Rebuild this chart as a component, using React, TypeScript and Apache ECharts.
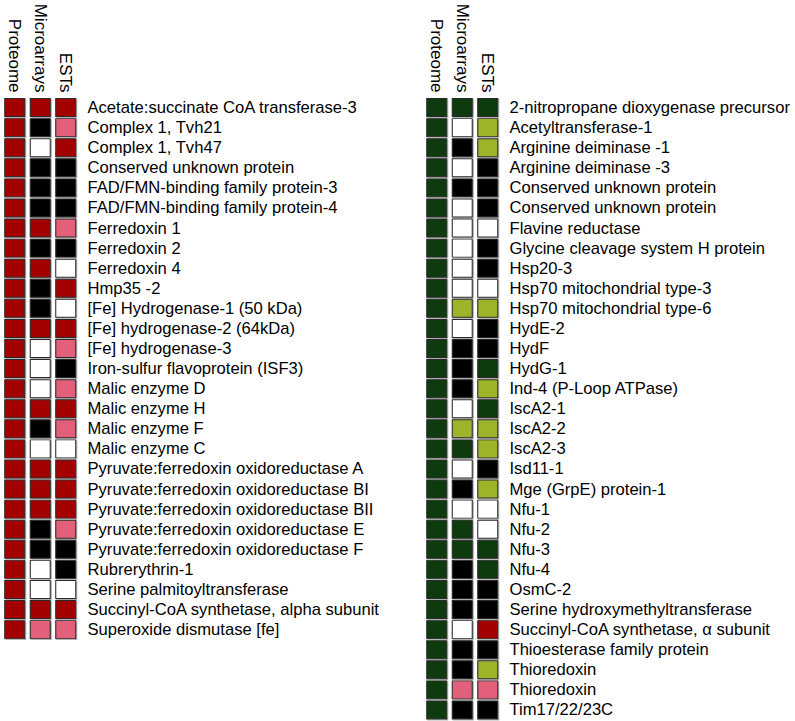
import React, { useEffect, useRef } from 'react';
import * as echarts from 'echarts';

const columns = ['Proteome', 'Microarrays', 'ESTs'];

// Codes: R = dark red, P = pink, K = black, W = white, G = dark green, L = light green
const leftGenes = [
  'Acetate:succinate CoA transferase-3',
  'Complex 1, Tvh21',
  'Complex 1, Tvh47',
  'Conserved unknown protein',
  'FAD/FMN-binding family protein-3',
  'FAD/FMN-binding family protein-4',
  'Ferredoxin 1',
  'Ferredoxin 2',
  'Ferredoxin 4',
  'Hmp35 -2',
  '[Fe] Hydrogenase-1 (50 kDa)',
  '[Fe] hydrogenase-2 (64kDa)',
  '[Fe] hydrogenase-3',
  'Iron-sulfur flavoprotein (ISF3)',
  'Malic enzyme D',
  'Malic enzyme H',
  'Malic enzyme F',
  'Malic enzyme C',
  'Pyruvate:ferredoxin oxidoreductase A',
  'Pyruvate:ferredoxin oxidoreductase BI',
  'Pyruvate:ferredoxin oxidoreductase BII',
  'Pyruvate:ferredoxin oxidoreductase E',
  'Pyruvate:ferredoxin oxidoreductase F',
  'Rubrerythrin-1',
  'Serine palmitoyltransferase',
  'Succinyl-CoA synthetase, alpha subunit',
  'Superoxide dismutase [fe]',
];
const leftProteome = ['R','R','R','R','R','R','R','R','R','R','R','R','R','R','R','R','R','R','R','R','R','R','R','R','R','R','R'];
const leftMicroarrays = ['R','K','W','K','K','K','R','K','R','K','K','R','W','W','W','R','K','W','R','R','R','K','K','W','W','R','P'];
const leftESTs = ['R','P','R','K','K','K','P','K','W','R','W','R','P','K','P','R','P','W','R','R','R','P','K','K','W','R','P'];

const rightGenes = [
  '2-nitropropane dioxygenase precursor',
  'Acetyltransferase-1',
  'Arginine deiminase -1',
  'Arginine deiminase -3',
  'Conserved unknown protein',
  'Conserved unknown protein ',
  'Flavine reductase',
  'Glycine cleavage system H protein',
  'Hsp20-3',
  'Hsp70 mitochondrial type-3',
  'Hsp70 mitochondrial type-6',
  'HydE-2',
  'HydF',
  'HydG-1',
  'Ind-4 (P-Loop ATPase)',
  'IscA2-1',
  'IscA2-2',
  'IscA2-3',
  'Isd11-1',
  'Mge (GrpE) protein-1',
  'Nfu-1',
  'Nfu-2',
  'Nfu-3',
  'Nfu-4',
  'OsmC-2',
  'Serine hydroxymethyltransferase',
  'Succinyl-CoA synthetase, α subunit',
  'Thioesterase family protein',
  'Thioredoxin',
  'Thioredoxin ',
  'Tim17/22/23C',
];
const rightProteome = ['G','G','G','G','G','G','G','G','G','G','G','G','G','G','G','G','G','G','G','G','G','G','G','G','G','G','G','G','G','G','G'];
const rightMicroarrays = ['G','W','K','W','K','W','W','W','W','W','L','W','K','K','K','W','L','G','W','K','W','G','G','K','K','K','W','K','K','P','K'];
const rightESTs = ['G','L','L','K','K','K','W','K','K','W','L','K','K','G','L','G','L','L','K','L','W','W','G','G','K','K','R','K','L','P','K'];

const COLORS: Record<string, string> = {
  R: '#a30006',
  P: '#e2607a',
  K: '#000000',
  W: '#ffffff',
  G: '#0c3a0e',
  L: '#9cb42c',
};

const FONT = 'Arial, "Liberation Sans", Helvetica, sans-serif';

function buildData(cols: string[][]) {
  const out: any[] = [];
  cols.forEach((col, ci) =>
    col.forEach((code, ri) => {
      out.push({ value: [ci, ri], itemStyle: { color: COLORS[code] } });
    })
  );
  return out;
}

export default function App() {
  const ref = useRef<HTMLDivElement>(null);
  useEffect(() => {
    if (!ref.current) return;
    const chart = echarts.init(ref.current, undefined, { renderer: 'svg' });
    const rowH = 20.08;
    const mkX = (gi: number) => ({
      type: 'category',
      gridIndex: gi,
      data: columns,
      position: 'top',
      axisLine: { show: false },
      axisTick: { show: false },
      splitLine: { show: false },
      axisLabel: { rotate: 90, margin: 5, fontSize: 17, color: '#000', fontFamily: FONT, interval: 0 },
    });
    const mkY = (gi: number, genes: string[]) => ({
      type: 'category',
      gridIndex: gi,
      data: genes,
      inverse: true,
      position: 'right',
      axisLine: { show: false },
      axisTick: { show: false },
      splitLine: { show: false },
      axisLabel: { align: 'left', margin: 9, fontSize: 16.6, color: '#000', fontFamily: FONT, interval: 0 },
    });
    const mkSeries = (gi: number, data: any[]) => ({
      type: 'scatter',
      xAxisIndex: gi,
      yAxisIndex: gi,
      symbol: 'rect',
      symbolSize: [20, 18],
      itemStyle: {
        borderColor: '#2a2a2a',
        borderWidth: 1,
        opacity: 1,
        shadowColor: 'rgba(120,120,120,0.6)',
        shadowBlur: 1,
        shadowOffsetX: 1,
        shadowOffsetY: 1,
      },
      data,
      silent: true,
    });
    chart.setOption({
      animation: false,
      backgroundColor: '#fff',
      grid: [
        { left: 2, top: 97.5, width: 76.5, height: rowH * leftGenes.length },
        { left: 424, top: 97.5, width: 76.5, height: rowH * rightGenes.length },
      ],
      xAxis: [mkX(0), mkX(1)],
      yAxis: [mkY(0, leftGenes), mkY(1, rightGenes)],
      series: [
        mkSeries(0, buildData([leftProteome, leftMicroarrays, leftESTs])),
        mkSeries(1, buildData([rightProteome, rightMicroarrays, rightESTs])),
      ],
    });
    return () => chart.dispose();
  }, []);
  return (
    <div
      ref={ref}
      style={{ position: 'absolute', left: 0, top: 0, width: 795, height: 721 }}
    />
  );
}
